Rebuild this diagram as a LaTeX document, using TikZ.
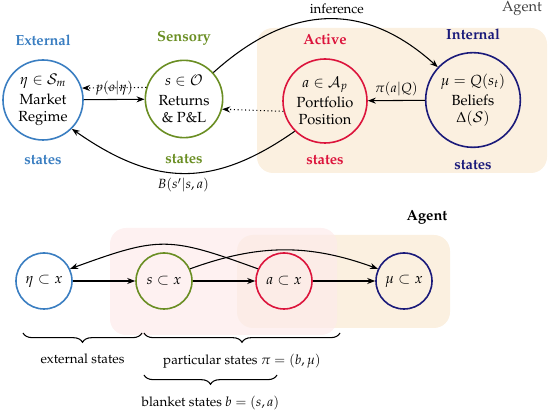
\documentclass[tikz,border=0pt]{standalone}
\usepackage[T1]{fontenc}
\usepackage{mathpazo}
\usepackage{amsmath,amssymb}
\usetikzlibrary{arrows.meta,decorations.pathreplacing}
\definecolor{ExtBlue}{HTML}{3A7EC1}
\definecolor{SenGreen}{HTML}{6A8E23}
\definecolor{ActRed}{HTML}{DC143C}
\definecolor{IntNavy}{HTML}{1A1A7A}
\definecolor{AgentPeach}{HTML}{FBF0E0}
\definecolor{BlanketPink}{HTML}{FDEBEB}

\begin{document}
\begin{tikzpicture}[x=0.75pt,y=0.75pt,
    state/.style={circle,draw,line width=1.2pt,align=center,inner sep=0pt,font=\fontsize{11}{13}\selectfont},
    small state/.style={state,minimum size=42pt},
    flow/.style={-{Stealth[length=6pt,width=4.5pt]},line width=0.8pt},
    weak flow/.style={flow,dotted},
    head/.style={font=\fontsize{11}{13}\selectfont\bfseries},
    brace/.style={decorate,decoration={brace,mirror,amplitude=7pt},line width=0.8pt}]
  \useasboundingbox (0,0) rectangle (550,413);
  % agent blanket (top)
  \fill[AgentPeach,rounded corners=12pt] (257,385) rectangle (547,240);
  \node[text=black!75,font=\fontsize{11}{13}\selectfont] (agentTop) at (522,405) {Agent};
  % the four states
  \node[state,draw=ExtBlue,minimum size=60pt] (ext) at (43,313) {$\eta \in \mathcal{S}_m$\\[2pt] Market\\ Regime};
  \node[state,draw=SenGreen,minimum size=58pt] (sen) at (184,314) {$s \in \mathcal{O}$\\[2pt] Returns\\ \& P\&L};
  \node[state,draw=ActRed,minimum size=63pt] (act) at (325,312) {$a \in \mathcal{A}_p$\\[2pt] Portfolio\\ Position};
  \node[state,draw=IntNavy,minimum size=71pt] (int) at (473,313) {$\mu = Q(s_t)$\\[2pt] Beliefs\\ $\Delta(\mathcal{S})$};
  \node[head,text=ExtBlue] (extHead) at (43,373) {External};
  \node[head,text=ExtBlue] (extFoot) at (43,253) {states};
  \node[head,text=SenGreen] (senHead) at (184,375) {Sensory};
  \node[head,text=SenGreen] (senFoot) at (184,254) {states};
  \node[head,text=ActRed] (actHead) at (325,374) {Active};
  \node[head,text=ActRed] (actFoot) at (325,253) {states};
  \node[head,text=IntNavy] (intHead) at (473,379) {Internal};
  \node[head,text=IntNavy] (intFoot) at (473,248) {states};
  % links
  \draw[flow] (ext) -- (sen);
  \draw[weak flow] (sen.163) -- node {$p(o|\eta)$} (ext.17);
  \draw[weak flow] (act.194) -- (sen.-15);
  \draw[flow] (int) -- node[above] {$\pi(a|Q)$} (act);
  \draw[flow] (sen.42) to[out=42,in=138,looseness=1.15] node[above,pos=0.55] {inference} (int.137);
  \draw[flow] (act.225) to[out=-145,in=-35,looseness=1.15] node[below] {$B(s'|s,a)$} (ext.-45);

  % lower picture
  \fill[AgentPeach] [rounded corners=12pt] (237,178) rectangle (450,85);
  \fill[BlanketPink,opacity=0.7] [rounded corners=12pt] (110,185) rectangle (337,78);
  \node[head] (agentLow) at (427,196) {Agent};
  \node[small state,draw=ExtBlue] (eta) at (44,132) {$\eta \subset x$};
  \node[small state,draw=SenGreen] (sx) at (164,132) {$s \subset x$};
  \node[small state,draw=ActRed] (ax) at (284,132) {$a \subset x$};
  \node[small state,draw=IntNavy] (mux) at (404,132) {$\mu \subset x$};
  \draw[flow] (eta) -- (sx);
  \draw[flow] (sx) -- (ax);
  \draw[flow] (ax) -- (mux);
  \draw[flow] (ax.155) to[out=160,in=20,looseness=1.3] (eta.25);
  \draw[flow] (sx.25) to[out=20,in=160] (mux.155);
  % braces
  \draw[brace] (23,80) -- node[below=12pt] (extLbl) {external states} (142,80);
  \draw[brace] (144,80) -- node[below=12pt] (partLbl) {particular states $\pi = (b,\mu)$} (340,80);
  \draw[brace] (144,38) -- node[below=12pt] (blkLbl) {blanket states $b = (s,a)$} (277,38);
\end{tikzpicture}
\end{document}
